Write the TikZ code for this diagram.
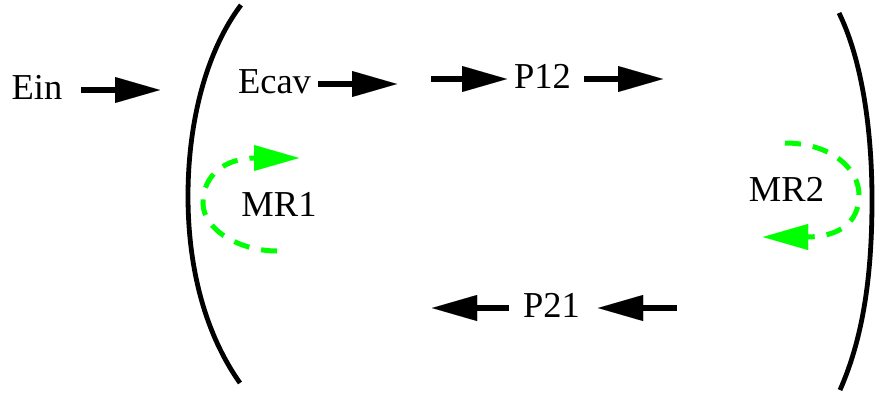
\documentclass[tikz,border=0pt]{standalone}
\usepackage{fontspec}
\setmainfont{Liberation Serif}
\usetikzlibrary{arrows.meta}
\begin{document}
\begin{tikzpicture}[x=1pt,y=-1pt,
  lbl/.style={inner sep=0pt,anchor=base,font=\fontsize{36.5}{40}\selectfont},
  blkarrow/.style={line width=5.5pt,-{Triangle[length=45pt,width=26pt,line width=0.01pt]}},
  greenloop/.style={draw=grn,line width=5pt,dash pattern=on 16pt off 12pt,
     -{Triangle[length=45pt,width=26pt,line width=0.01pt]}},
  mirror/.style={line width=4.8pt}]
\definecolor{grn}{RGB}{0,255,0}
\useasboundingbox (0,0) rectangle (875,394);
% labels
\node[lbl] (ein)  at (37,99)  {Ein};
\node[lbl] (ecav) at (274.5,93) {Ecav};
\node[lbl] (p12)  at (542.5,88) {P12};
\node[lbl] (mr1)  at (279,216) {MR1};
\node[lbl] (mr2)  at (786.5,201) {MR2};
\node[lbl] (p21)  at (551.5,317) {P21};
% arrow end points
\coordinate (a1s) at (81,90);   \coordinate (a1e) at (160,90);
\coordinate (a2s) at (318,84);  \coordinate (a2e) at (397,84);
\coordinate (a3s) at (431,79);  \coordinate (a3e) at (507,79);
\coordinate (a4s) at (584,79);  \coordinate (a4e) at (663,79);
\coordinate (a5s) at (509,308); \coordinate (a5e) at (432,308);
\coordinate (a6s) at (677,308); \coordinate (a6e) at (598,308);
\draw[blkarrow] (a1s) -- (a1e);
\draw[blkarrow] (a2s) -- (a2e);
\draw[blkarrow] (a3s) -- (a3e);
\draw[blkarrow] (a4s) -- (a4e);
\draw[blkarrow] (a5s) -- (a5e);
\draw[blkarrow] (a6s) -- (a6e);
% mirrors
\draw[mirror] (241,5) .. controls (207,50) and (188,120) .. (188,196)
              .. controls (188,270) and (206,335) .. (240,383);
\draw[mirror] (839,13) .. controls (862,60) and (872,130) .. (872,200)
              .. controls (872,280) and (862,340) .. (840,390);
% round trips
\coordinate (m1s) at (277,251); \coordinate (m1e) at (299,158);
\coordinate (m2s) at (785,143); \coordinate (m2e) at (763,237);
\draw[greenloop] (m1s) .. controls (240,251) and (203,230) .. (203,203)
     .. controls (203,175) and (225,158) .. (256,158) -- (m1e);
\draw[greenloop] (m2s) .. controls (830,143) and (859,168) .. (859,195)
     .. controls (859,222) and (840,237) .. (806,237) -- (m2e);
\end{tikzpicture}
\end{document}
